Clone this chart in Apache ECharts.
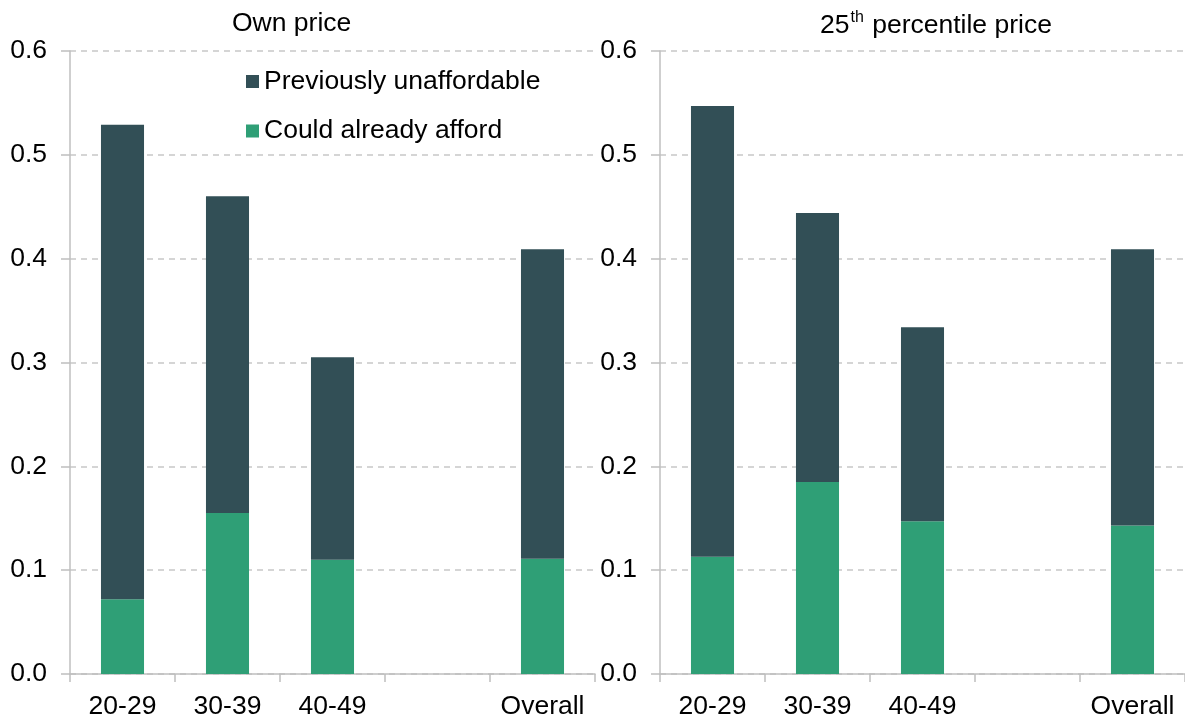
<!DOCTYPE html>
<html>
<head>
<meta charset="utf-8">
<title>Stacked bars</title>
<script src="https://cdn.jsdelivr.net/npm/echarts@6/dist/echarts.min.js"></script>
<style>
  html, body { margin: 0; padding: 0; background: #fff; }
  #chart { width: 1185px; height: 720px; }
</style>
</head>
<body>
<div id="chart"></div>
<script>
// categories (the blank slot is a spacer before "Overall")
var categories = ['20-29', '30-39', '40-49', '', 'Overall'];
var yTicks = [0, 0.1, 0.2, 0.3, 0.4, 0.5, 0.6];

// Own price
var ownAfford = [0.072, 0.155, 0.110, null, 0.111];
var ownUnaffordable = [0.457, 0.305, 0.195, null, 0.298];

// 25th percentile price
var p25Afford = [0.113, 0.185, 0.147, null, 0.143];
var p25Unaffordable = [0.434, 0.259, 0.187, null, 0.266];

var DARK = '#324f56';
var GREEN = '#2f9f76';
var AXIS = '#bfbfbf';
var FONT = 'Liberation Sans, Arial, sans-serif';
var FS = 26.5;

var chart = echarts.init(document.getElementById('chart'));

function xAxisFor(idx) {
  return {
    type: 'category',
    gridIndex: idx,
    data: categories,
    axisLine: { lineStyle: { color: AXIS, width: 1.5 } },
    axisTick: { show: true, interval: 0, length: 8, lineStyle: { color: AXIS, width: 1.5 } },
    axisLabel: { interval: 0, color: '#000', fontSize: FS, fontFamily: FONT, margin: 19 }
  };
}
function yAxisFor(idx) {
  return {
    type: 'value',
    gridIndex: idx,
    min: yTicks[0],
    max: yTicks[yTicks.length - 1],
    interval: 0.1,
    axisLine: { show: true, lineStyle: { color: AXIS, width: 1.5 } },
    axisTick: { show: true, length: 9, lineStyle: { color: AXIS, width: 1.5 } },
    axisLabel: {
      color: '#000', fontSize: FS, fontFamily: FONT, margin: 23,
      formatter: function (v) { return v.toFixed(1); }
    },
    splitLine: { lineStyle: { color: '#c8c8c8', type: [6, 5], width: 1.5 } }
  };
}
function bar(name, data, color, idx) {
  return {
    name: name,
    type: 'bar',
    stack: 'g' + idx,
    xAxisIndex: idx,
    yAxisIndex: idx,
    barWidth: '41%',
    itemStyle: { color: color },
    data: data
  };
}

chart.setOption({
  animation: false,
  textStyle: { fontFamily: FONT },
  title: [
    {
      text: 'Own price', left: 227, top: 5,
      textStyle: { fontSize: FS, fontWeight: 'normal', color: '#000', fontFamily: FONT }
    },
    {
      text: '{a|25}{s|th}{a| percentile price}', left: 815, top: 5,
      textStyle: {
        fontSize: FS, fontWeight: 'normal', color: '#000', fontFamily: FONT,
        rich: {
          a: { fontSize: FS, color: '#000', fontFamily: FONT, lineHeight: 31 },
          s: { fontSize: 16, color: '#000', fontFamily: FONT, verticalAlign: 'top', lineHeight: 31, padding: [0, 1, 12, 1] }
        }
      }
    }
  ],
  legend: {
    orient: 'vertical',
    left: 246,
    top: 68,
    padding: 0,
    itemWidth: 13,
    itemHeight: 13,
    itemGap: 22.5,
    icon: 'rect',
    data: ['Previously unaffordable', 'Could already afford'],
    textStyle: { fontSize: FS, color: '#000', fontFamily: FONT }
  },
  grid: [
    { left: 70, right: 590, top: 51, bottom: 44 },
    { left: 660, right: 0, top: 51, bottom: 44 }
  ],
  xAxis: [xAxisFor(0), xAxisFor(1)],
  yAxis: [yAxisFor(0), yAxisFor(1)],
  series: [
    bar('Could already afford', ownAfford, GREEN, 0),
    bar('Previously unaffordable', ownUnaffordable, DARK, 0),
    bar('Could already afford', p25Afford, GREEN, 1),
    bar('Previously unaffordable', p25Unaffordable, DARK, 1)
  ]
});
</script>
</body>
</html>
